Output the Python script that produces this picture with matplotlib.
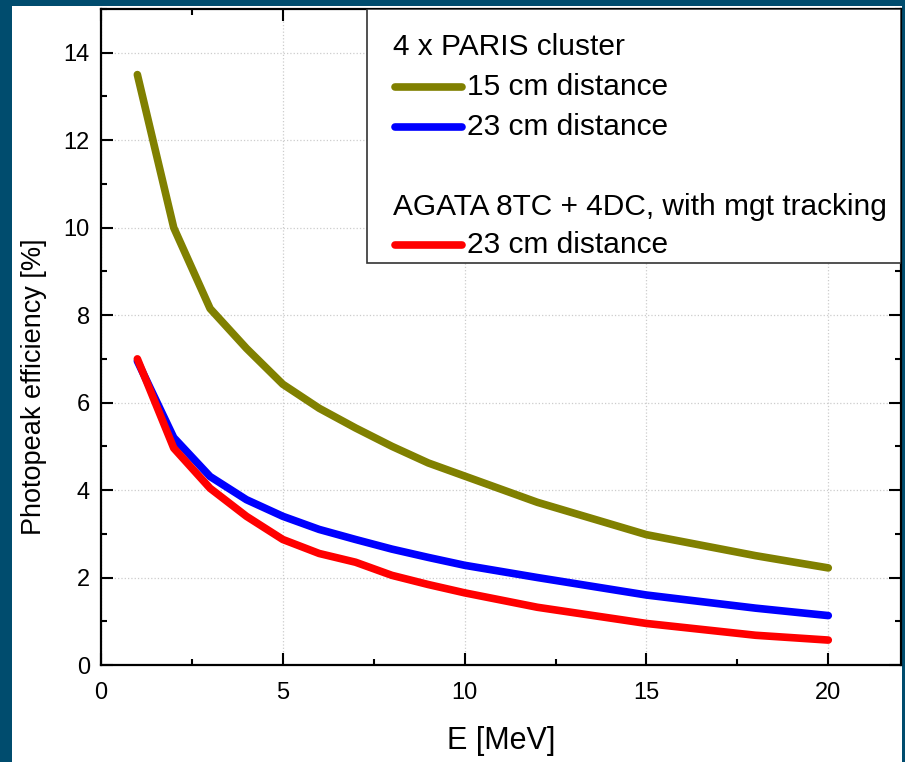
import matplotlib
matplotlib.use("Agg")
import matplotlib.pyplot as plt
from matplotlib.patches import Rectangle
from matplotlib.ticker import MultipleLocator

plt.rcParams['font.family'] = ['Liberation Sans', 'DejaVu Sans']

# ── Datos ────────────────────────────────────────────────────
energy = [1, 2, 3, 4, 5, 6, 7, 8, 9, 10, 12, 15, 18, 20]
paris_15cm = [13.5, 10.0, 8.15, 7.24, 6.42, 5.87, 5.42, 5.0, 4.62, 4.32, 3.72, 2.98, 2.5, 2.22]
paris_23cm = [6.95, 5.2, 4.31, 3.78, 3.4, 3.1, 2.87, 2.65, 2.46, 2.28, 2.0, 1.6, 1.3, 1.13]
agata_23cm = [7.0, 4.96, 4.04, 3.4, 2.87, 2.55, 2.35, 2.05, 1.84, 1.65, 1.32, 0.95, 0.68, 0.57]

OLIVE, BLUE, RED = "#808000", "#0000ff", "#ff0000"
LW = 5.5

fig = plt.figure(figsize=(9.05, 7.62), dpi=100, facecolor="#004c6e")
# panel blanco
fig.add_artist(Rectangle((12/905, 0), (902-12)/905, 1-6/762,
                         transform=fig.transFigure, facecolor="white",
                         edgecolor="none", zorder=-10))

ax = fig.add_axes([101/905, 1-665/762, 800/905, (665-9)/762])
ax.set_facecolor("white")
ax.plot(energy, paris_15cm, color=OLIVE, lw=LW, solid_capstyle="round", zorder=3)
ax.plot(energy, paris_23cm, color=BLUE, lw=LW, solid_capstyle="round", zorder=3)
ax.plot(energy, agata_23cm, color=RED, lw=LW, solid_capstyle="round", zorder=4)

ax.set_xlim(0, 22)
ax.set_ylim(0, 15)
ax.xaxis.set_minor_locator(MultipleLocator(2.5))
ax.yaxis.set_minor_locator(MultipleLocator(1))
ax.set_xticks([0, 5, 10, 15, 20])
ax.set_yticks([0, 2, 4, 6, 8, 10, 12, 14])
ax.tick_params(which="both", direction="in", top=True, right=True, width=1.5)
ax.tick_params(which="major", length=8.5, labelsize=17, pad=8)
ax.tick_params(axis="x", which="major", pad=12)
ax.tick_params(which="minor", length=4.5)
for s in ax.spines.values():
    s.set_linewidth(1.6)
ax.grid(True, which="major", linestyle=":", color="#cccccc", linewidth=0.9)
ax.set_axisbelow(True)

ax.set_xlabel("E [MeV]", fontsize=22, labelpad=16)
ax.set_ylabel("Photopeak efficiency [%]", fontsize=19.5)
ax.yaxis.set_label_coords(-0.068, 0.424)

# ── Leyenda manual ───────────────────────────────────────────
ax.add_patch(Rectangle((0.3325, 0.613), 1 - 0.3325, 1 - 0.613, transform=ax.transAxes,
                       facecolor="white", edgecolor="#333333", lw=1.2, zorder=6))
lfont = dict(fontsize=21.5, va="center", transform=ax.transAxes, zorder=7)
ax.text(0.365, 0.942, "4 x PARIS cluster", **lfont)
ax.text(0.365, 0.698, "AGATA 8TC + 4DC, with mgt tracking", **lfont)
for yy, col in [(0.881, OLIVE), (0.820, BLUE), (0.640, RED)]:
    ax.plot([0.3675, 0.451], [yy, yy], color=col, lw=LW, transform=ax.transAxes,
            solid_capstyle="round", zorder=7, clip_on=False)
    ax.text(0.4575, yy, f"{'15' if col == OLIVE else '23'} cm distance", **lfont)

plt.savefig("out.png", dpi=100, facecolor=fig.get_facecolor())
